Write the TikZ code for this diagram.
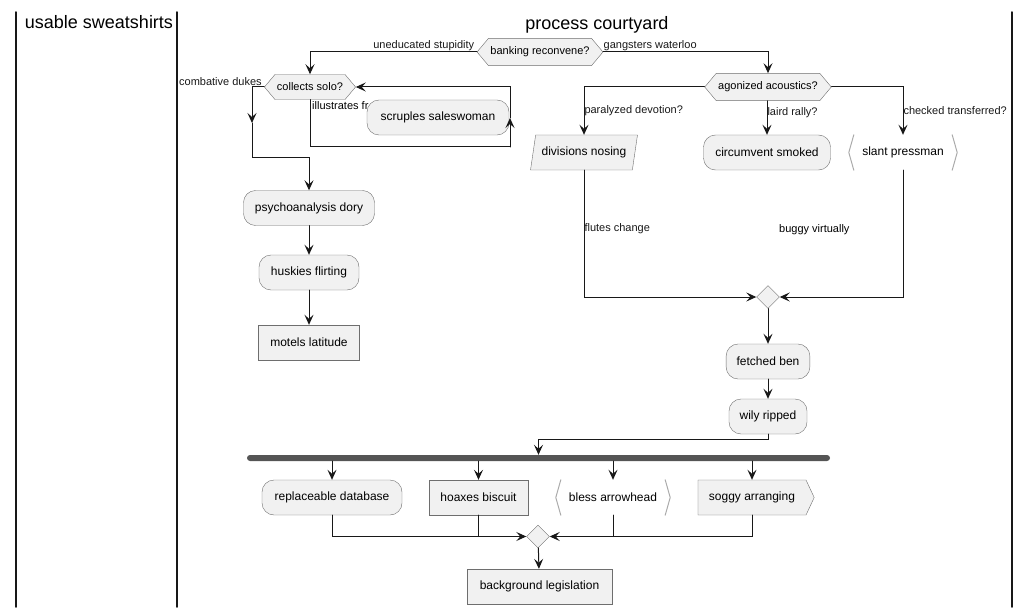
\documentclass[tikz,border=0pt]{standalone}
\usepackage{fontspec}
\setmainfont{Liberation Sans}
\usetikzlibrary{arrows.meta,positioning,calc,shapes.geometric,shapes.symbols}
\definecolor{boxfill}{HTML}{F1F1F1}
\definecolor{boxline}{HTML}{6E6E6E}
\definecolor{ink}{HTML}{181818}
\definecolor{barink}{HTML}{555555}
\definecolor{brackink}{HTML}{ABABAB}
\tikzset{act/.style={rectangle,rounded corners=12pt,draw=boxline,fill=boxfill,minimum height=35pt,inner xsep=10.5pt,inner ysep=0pt,font=\fontsize{12}{14}\selectfont},sq/.style={act,rounded corners=0pt},cond/.style={signal,signal to=east and west,signal pointer angle=100,draw=boxline,fill=boxfill,minimum height=25pt,inner xsep=2pt,inner ysep=8.5pt,font=\fontsize{11}{13}\selectfont},merge/.style={diamond,draw=boxline,fill=boxfill,minimum size=23pt,inner sep=0pt},lbl/.style={inner sep=0pt,font=\fontsize{11}{13}\selectfont},flow/.style={ink,line width=1pt,-{Stealth[length=10pt,width=9pt,inset=4pt]}},wire/.style={ink,line width=1pt},lane/.style={ink,line width=1.5pt},brack/.style={brackink,line width=1pt},every picture/.style={line cap=round}}

\begin{document}
\begin{tikzpicture}[x=1pt,y=-1pt]
\useasboundingbox (0,0) rectangle (1031,615);
\foreach \x in {16,177,1012}{\draw[lane] (\x,12)--(\x,607);}
\node[font=\fontsize{18}{21}\selectfont,anchor=base] (t1) at (99,28.5) {usable sweatshirts};
\node[font=\fontsize{18}{21}\selectfont,anchor=base] (t2) at (597,30) {process courtyard};
\node[cond] (q0) at (540,52) {banking reconvene?};
\node[cond] (q1) at (310,87) {collects solo?};
\node[cond] (q2) at (768,87) {agonized acoustics?};
\node[act,minimum width=131pt] (dory) at (309,208) {psychoanalysis dory};
\node[act,minimum width=100pt] (husky) at (309,272.5) {huskies flirting};
\node[sq,minimum width=101pt] (motel) at (309,342.5) {motels latitude};
\node[trapezium,trapezium left angle=74,trapezium right angle=106,trapezium stretches body,draw=boxline,fill=boxfill,minimum height=35pt,inner xsep=6pt,font=\fontsize{12}{14}\selectfont] (nosing) at (584,152.5) {divisions nosing};
\node[act,minimum width=127pt] (smoked) at (767,152.5) {circumvent smoked};
\node[act,draw=none,fill=none,minimum width=108pt] (press) at (903,152.5) {slant pressman};
\node[merge] (m1) at (768,297) {};
\node[act,minimum width=83pt] (ben) at (768,361.5) {fetched ben};
\node[act,minimum width=78pt] (wily) at (768,416.5) {wily ripped};
\node[rectangle,fill=barink,rounded corners=3pt,minimum width=583pt,minimum height=6pt,inner sep=0pt] (bar) at (538.5,458) {};
\node[act,minimum width=140pt] (repl) at (332,497.5) {replaceable database};
\node[sq,minimum width=99pt] (hoax) at (478.5,497.5) {hoaxes biscuit};
\node[act,draw=none,fill=none,minimum width=114pt] (bless) at (613,497.5) {bless arrowhead};
\node[signal,signal to=east,signal from=nowhere,signal pointer angle=130,draw=boxline,fill=boxfill,minimum height=35pt,inner xsep=11pt,inner ysep=0pt,font=\fontsize{12}{14}\selectfont] (soggy) at (752,497.5) {soggy arranging};
\node[merge] (m2) at (538,536.5) {};
\node[sq,minimum width=145pt] (legis) at (539.5,586.5) {background legislation};
\foreach \n in {press,bless}{
\draw[brack] ([xshift=5pt]\n.north west)--(\n.west)--([xshift=5pt]\n.south west);
\draw[brack] ([xshift=-5pt]\n.north east)--(\n.east)--([xshift=-5pt]\n.south east);}
\coordinate (k1) at (252,123);
\coordinate (k2) at (252,158);
\coordinate (k3) at (510,147);
\coordinate (k4) at (510,118);
\draw[flow] (q0.west) node[lbl,anchor=south east,xshift=-2pt,yshift=1pt] {uneducated stupidity} -| (q1.north);
\draw[flow] (q0.east) node[lbl,anchor=south west,yshift=1pt] {gangsters waterloo} -| (q2.north);
\draw[flow] (q1.west) node[lbl,anchor=south east,xshift=-2pt,yshift=1pt] {combative dukes} -| (k1);
\draw[flow] (k1)--(k2) -| (dory.north);
\node[lbl,anchor=west] (fr) at (312,106) {illustrates fr};
\draw[wire] (q1.south) |- (k3);
\node[act,minimum width=142pt] (scr) at (438,117.5) {scruples saleswoman};
\draw[flow] (k3)--(k4);
\draw[flow] (k4) |- (q1.east);
\foreach \a/\b in {dory/husky,husky/motel,m1/ben,ben/wily,m2/legis}{\draw[flow] (\a)--(\b);}
\draw[flow] (q2.west) -| node[pos=0.75,lbl,anchor=west] {paralyzed devotion?} (nosing.north);
\draw[flow] (q2.south -| smoked.north)--node[pos=0.36,lbl,anchor=west] {laird rally?} (smoked.north);
\draw[flow] (q2.east) -| node[pos=0.75,lbl,anchor=west] {checked transferred?} (press.north);
\draw[flow] (nosing.south) |- node[pos=0.23,lbl,anchor=west] {flutes change} (m1.west);
\draw[flow] (press.south) |- (m1.east);
\node[lbl,anchor=west] (bv) at (779,230) {buggy virtually};
\draw[flow] (wily.south)--++(0,5) -| (bar.north);
\foreach \n in {repl,hoax,bless,soggy}{\draw[flow] (bar.south -| \n.north)--(\n.north);}
\draw[flow] (repl.south) |- (m2.west);
\draw[wire] (hoax.south)--(hoax.south |- m2.west);
\draw[flow] (soggy.south) |- (m2.east);
\draw[wire] (bless.south)--(bless.south |- m2.east);
\end{tikzpicture}
\end{document}
